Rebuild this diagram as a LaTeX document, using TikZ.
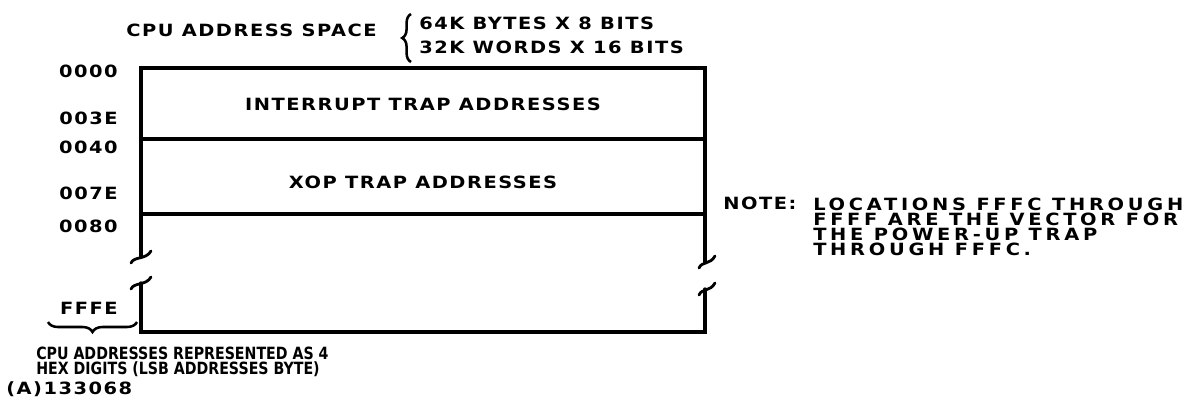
\documentclass[tikz,border=0pt]{standalone}
\usepackage{fontspec}
\setmainfont{DejaVu Sans}[FakeStretch=1.15,LetterSpace=9]
\newfontfamily\notefont{DejaVu Sans}[FakeStretch=1.15,LetterSpace=22]
\newfontfamily\capfont{DejaVu Sans}[FakeStretch=0.84,LetterSpace=0]
\usetikzlibrary{decorations.pathreplacing}

\begin{document}
\begin{tikzpicture}[x=0.025cm,y=-0.025cm,
    lab/.style={font=\fontsize{12}{10.5}\selectfont\bfseries,inner sep=0pt},
    memline/.style={line width=2.4pt,line cap=round},
    brk/.style={line width=2pt,line cap=round},
    brc/.style={line width=1.8pt,decorate,decoration={brace,amplitude=0.22cm}}]
  \useasboundingbox (0,0) rectangle (1189,402);
  % heading with the two ways of counting the space
  \node[lab,anchor=base west] (space) at (126,36) {CPU ADDRESS SPACE};
  \node[lab,anchor=base west] (bytes) at (419,29) {64K BYTES X 8 BITS};
  \node[lab,anchor=base west] (words) at (419,53) {32K WORDS X 16 BITS};
  \draw[brc] (411,62) -- (411,14);
  % the map itself, broken between 0080 and FFFE
  \draw[memline] (141,257) -- (141,68) -- (705,68) -- (705,262);
  \draw[memline] (141,283) -- (141,332) -- (705,332) -- (705,289);
  \draw[memline] (141,139) -- (705,139);
  \draw[memline] (141,214) -- (705,214);
  \foreach \x/\y/\l in {141/257/10,141/283/10,705/262/6,705/289/6}
    \draw[brk] (\x-\l,\y+6) .. controls (\x-\l+3,\y-1) and (\x+5,\y+3) .. (\x+10,\y-6);
  \foreach \a/\y in {0000/77,003E/124,0040/153,007E/199,0080/232,FFFE/314}
    \node[lab,anchor=base east] (addr\a) at (118,\y) {\a};
  \node[lab,anchor=base] (inttrap) at (423,110) {INTERRUPT TRAP ADDRESSES};
  \node[lab,anchor=base] (xoptrap) at (423,188) {XOP TRAP ADDRESSES};
  % four hex digits per address
  \draw[brc,decoration={mirror,amplitude=0.25cm}] (48,322) -- (137,322);
  \node[lab,anchor=north west,align=left] (digits) at (36,347)
    {\capfont CPU ADDRESSES REPRESENTED AS 4\\\capfont HEX DIGITS (LSB ADDRESSES BYTE)};
  \node[lab,anchor=base west] (figno) at (6,394) {(A)133068};
  % note on the power-up vector
  \node[lab,anchor=base west] (note) at (723,209) {NOTE:};
  \node[lab,anchor=north west,align=left] (notetext) at (813,198)
    {\notefont LOCATIONS FFFC THROUGH\\\notefont FFFF ARE THE VECTOR FOR\\\notefont THE POWER-UP TRAP\\\notefont THROUGH FFFC.};
\end{tikzpicture}
\end{document}
